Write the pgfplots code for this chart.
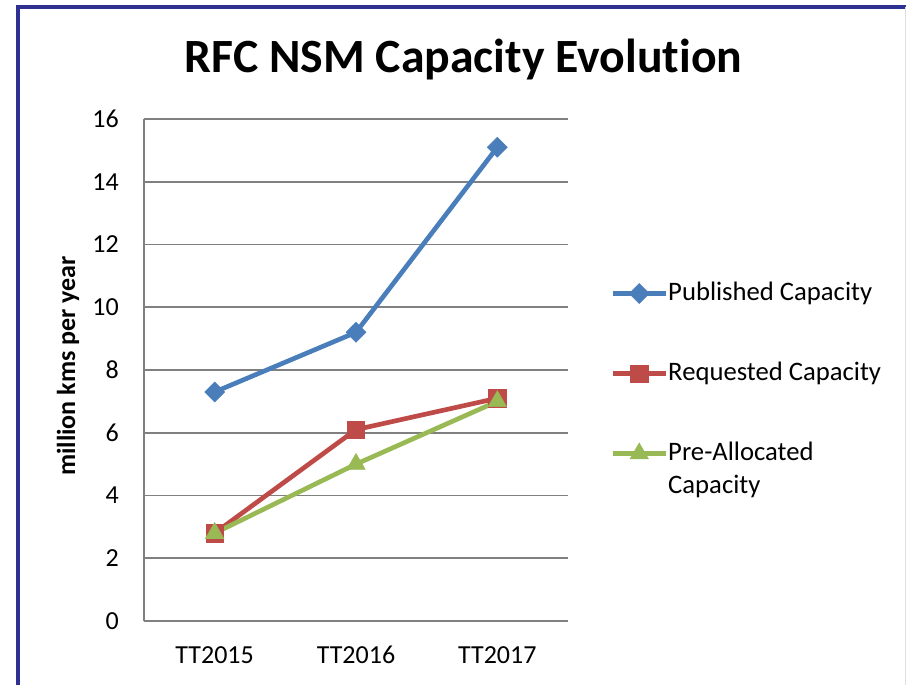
\documentclass[border=0pt]{standalone}
\usepackage{fontspec}
\setmainfont[Ligatures=NoCommon]{Carlito}
\usepackage{pgfplots}
\pgfplotsset{compat=1.18}
\definecolor{pubblue}{HTML}{4A7EBB}
\definecolor{reqred}{HTML}{BE4B48}
\definecolor{pregreen}{HTML}{98B954}
\definecolor{framblue}{HTML}{2E3192}
\definecolor{gridgray}{HTML}{808080}
\begin{document}
\begin{tikzpicture}
\path[use as bounding box] (0,0) rectangle (679.5pt,-513.75pt);
% slide frame
\draw[framblue, line width=3.5pt] (13.5pt,-513.75pt) -- (13.5pt,-5.25pt) -- (679.5pt,-5.25pt);
\draw[gray!25, line width=0.8pt] (679pt,-5pt) -- (679pt,-513.75pt);
\node[anchor=base, font=\fontsize{35.8}{40}\selectfont\bfseries] at (347.6pt,-54.75pt) {RFC NSM Capacity Evolution};
\begin{axis}[
  at={(108pt,-465.75pt)}, anchor=south west,
  scale only axis, width=318pt, height=376.5pt,
  xmin=-0.5, xmax=2.5, ymin=0, ymax=16,
  xtick={0,1,2}, xticklabels={TT2015,TT2016,TT2017},
  ytick={0,2,...,16},
  /pgf/number format/assume math mode=true,
  axis x line*=bottom, axis y line*=left,
  axis line style={gridgray, line width=1.3pt},
  ymajorgrids, grid style={gridgray, line width=1.3pt},
  major tick length=0pt, tick style={draw=none},
  ticklabel style={font=\fontsize{19.5}{23}\selectfont, inner sep=0pt},
  yticklabel style={xshift=-18.75pt},
  xticklabel style={yshift=-18.75pt},
  ylabel={million kms per year},
  ylabel style={at={(axis description cs:-0.179,0.508)}, anchor=center, font=\fontsize{19.5}{23}\selectfont\bfseries},
  clip=false,
  legend cell align=left,
  legend style={draw=none, fill=none, inner sep=0pt, at={(axis description cs:1.099,0.677)}, anchor=north west,
    font=\fontsize{20}{25}\selectfont,
    nodes={inner sep=0pt, text height=14.3pt, text depth=4pt},
    row sep=41.7pt, column sep=0pt},
  legend image code/.code={\draw[mark repeat=2, mark phase=2, #1] plot coordinates {(0pt,0pt) (20pt,0pt) (40pt,0pt)};},
  every axis plot/.append style={line width=3.5pt},
]
\addplot[pubblue, mark=square*, mark size=5.3pt, mark options={rotate=45, line width=0.4pt, fill=pubblue}]
  coordinates {(0,7.3) (1,9.2) (2,15.1)};
\addlegendentry{Published Capacity}
\addplot[reqred, mark=square*, mark size=6.5pt, mark options={line width=0.4pt, fill=reqred}]
  coordinates {(0,2.8) (1,6.1) (2,7.1)};
\addlegendentry{Requested Capacity}
\addplot[pregreen, mark=triangle*, mark size=8pt, mark options={line width=0.4pt, fill=pregreen}]
  coordinates {(0,2.8) (1,5.0) (2,7.0)};
\addlegendentry{\parbox[t]{5cm}{Pre-Allocated\\Capacity}}
\end{axis}
\end{tikzpicture}
\end{document}
